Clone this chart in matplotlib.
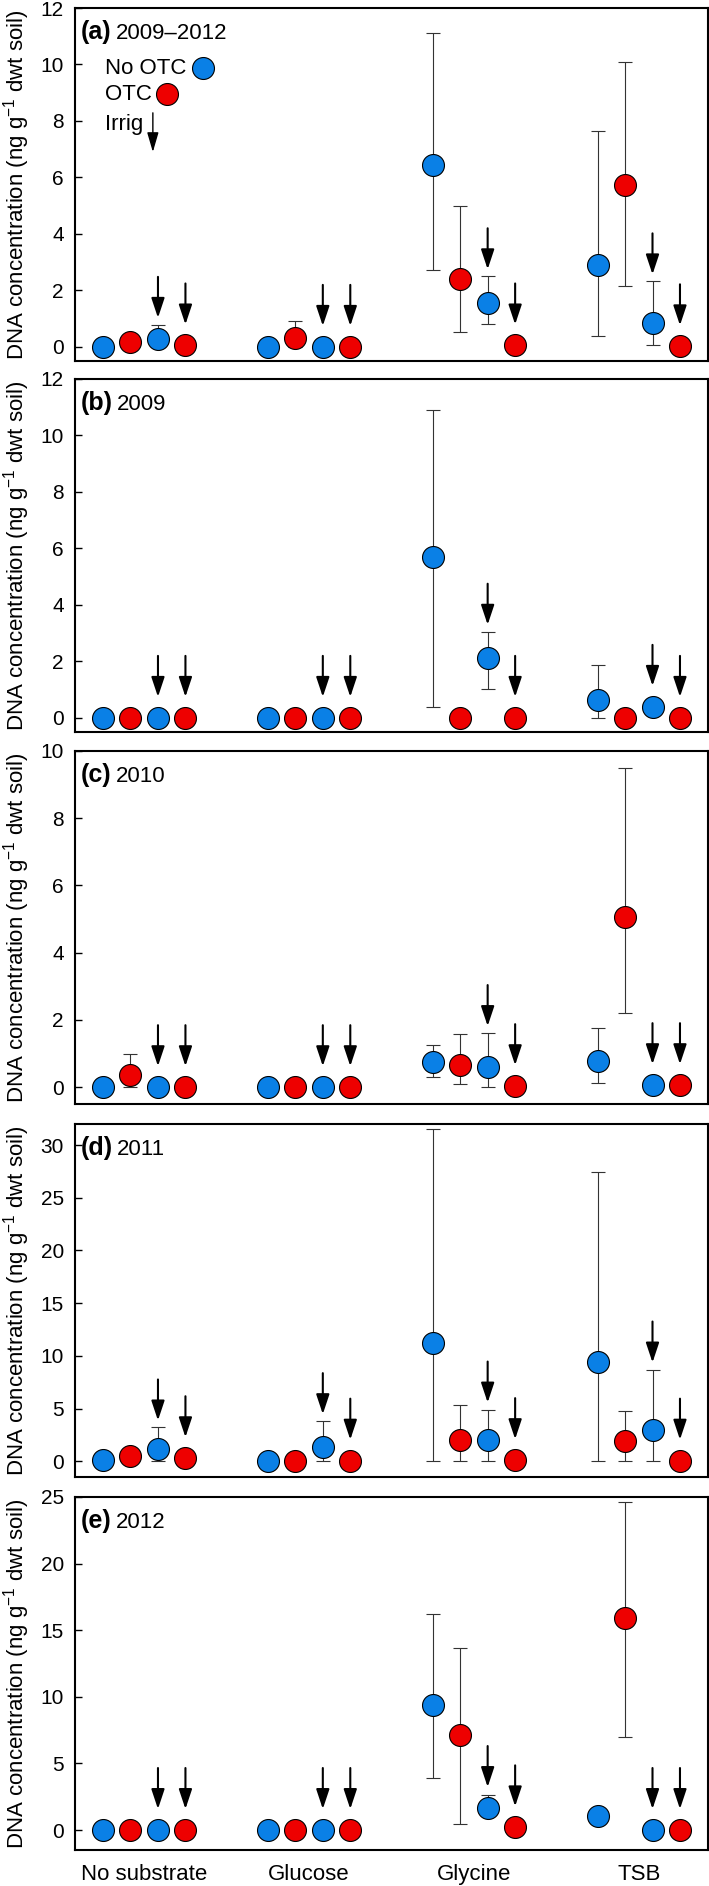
import matplotlib
matplotlib.use('Agg')
import matplotlib.pyplot as plt
import numpy as np

plt.rcParams['font.family'] = ['Liberation Sans', 'DejaVu Sans']
plt.rcParams['mathtext.fontset'] = 'custom'
plt.rcParams['mathtext.rm'] = 'Liberation Sans'
plt.rcParams['mathtext.it'] = 'Liberation Sans:italic'

substrates = ['No substrate', 'Glucose', 'Glycine', 'TSB']
treatments = ['No OTC', 'OTC', 'No OTC Irrig', 'OTC Irrig']
tags = ['(a)', '(b)', '(c)', '(d)', '(e)']
years = ['2009\u20132012', '2009', '2010', '2011', '2012']

# rows = substrate, columns = treatment (No OTC, OTC, No OTC+Irrig, OTC+Irrig)
mean_a = [[0.0, 0.18, 0.28, 0.05], [0.0, 0.32, 0.0, 0.0], [6.43, 2.42, 1.55, 0.05], [2.91, 5.72, 0.84, 0.02]]
low_a = [[0.0, 0.18, 0.0, 0.05], [0.0, 0.0, 0.0, 0.0], [2.73, 0.51, 0.80, 0.05], [0.37, 2.17, 0.05, 0.02]]
high_a = [[0.0, 0.18, 0.78, 0.05], [0.0, 0.92, 0.0, 0.0], [11.12, 4.98, 2.50, 0.05], [7.63, 10.09, 2.32, 0.02]]

mean_b = [[0.0, 0.0, 0.0, 0.0], [0.0, 0.0, 0.0, 0.0], [5.68, 0.0, 2.13, 0.0], [0.64, 0.0, 0.39, 0.0]]
low_b = [[0.0, 0.0, 0.0, 0.0], [0.0, 0.0, 0.0, 0.0], [0.39, 0.0, 1.03, 0.0], [0.0, 0.0, 0.39, 0.0]]
high_b = [[0.0, 0.0, 0.0, 0.0], [0.0, 0.0, 0.0, 0.0], [10.9, 0.0, 3.05, 0.0], [1.88, 0.0, 0.39, 0.0]]

mean_c = [[0.0, 0.36, 0.0, 0.0], [0.0, 0.0, 0.0, 0.0], [0.74, 0.66, 0.60, 0.03], [0.78, 5.07, 0.06, 0.06]]
low_c = [[0.0, 0.0, 0.0, 0.0], [0.0, 0.0, 0.0, 0.0], [0.30, 0.09, 0.0, 0.03], [0.12, 2.2, 0.06, 0.06]]
high_c = [[0.0, 0.98, 0.0, 0.0], [0.0, 0.0, 0.0, 0.0], [1.25, 1.58, 1.61, 0.03], [1.76, 9.48, 0.06, 0.06]]

mean_d = [[0.1, 0.47, 1.14, 0.28], [0.05, 0.05, 1.33, 0.05], [11.2, 1.99, 1.99, 0.1], [9.4, 1.9, 2.94, 0.05]]
low_d = [[0.1, 0.47, 0.0, 0.28], [0.05, 0.05, 0.0, 0.05], [0.0, 0.0, 0.0, 0.1], [0.0, 0.0, 0.0, 0.05]]
high_d = [[0.1, 0.47, 3.2, 0.28], [0.05, 0.05, 3.8, 0.05], [31.5, 5.3, 4.9, 0.1], [27.4, 4.8, 8.7, 0.05]]

mean_e = [[0.0, 0.0, 0.0, 0.0], [0.0, 0.0, 0.0, 0.0], [9.4, 7.1, 1.65, 0.2], [1.05, 15.9, 0.0, 0.0]]
low_e = [[0.0, 0.0, 0.0, 0.0], [0.0, 0.0, 0.0, 0.0], [3.9, 0.45, 1.65, 0.2], [1.05, 6.95, 0.0, 0.0]]
high_e = [[0.0, 0.0, 0.0, 0.0], [0.0, 0.0, 0.0, 0.0], [16.2, 13.7, 2.6, 0.2], [1.05, 24.6, 0.0, 0.0]]

means = [mean_a, mean_b, mean_c, mean_d, mean_e]
lows = [low_a, low_b, low_c, low_d, low_e]
highs = [high_a, high_b, high_c, high_d, high_e]

ylims = [(-0.5, 12), (-0.5, 12), (-0.5, 10), (-1.5, 32), (-1.5, 25)]
yticks = [np.arange(0, 13, 2), np.arange(0, 13, 2), np.arange(0, 11, 2),
          np.arange(0, 31, 5), np.arange(0, 26, 5)]

blue = '#0A80E6'
red = '#EE0000'
colors = [blue, red, blue, red]
irrig = [False, False, True, True]
offsets = np.array([-1.5, -0.5, 0.5, 1.5]) / 6.0

W, H, dpi = 709, 1886, 100
fig = plt.figure(figsize=(W / dpi, H / dpi), dpi=dpi)

ax_left, ax_right = 75, 708
tops = [8, 379, 751, 1124, 1497]
ax_h = 353
ms = 15.8  # marker size (pt)
px = 72.0 / dpi
arrow_style = '-|>,head_length=1.2,head_width=0.4'

for k in range(5):
    top = tops[k]
    ax = fig.add_axes([ax_left / W, 1 - (top + ax_h) / H,
                       (ax_right - ax_left) / W, ax_h / H])
    ax.set_xlim(-0.42, 3.42)
    ax.set_ylim(*ylims[k])
    ax.set_yticks(yticks[k])
    ax.tick_params(axis='y', direction='in', length=5, width=1, labelsize=15, pad=8)
    ax.tick_params(axis='x', length=0, labelsize=16, pad=10)
    ax.set_xticks(range(4))
    if k == 4:
        ax.set_xticklabels(substrates)
    else:
        ax.set_xticklabels([])
    for s in ax.spines.values():
        s.set_linewidth(1.5)
    ax.set_ylabel('DNA concentration (ng g$^{-1}$ dwt soil)', fontsize=16)
    ax.yaxis.set_label_coords(-0.068, 0.5)

    m = np.array(means[k])
    lo = np.array(lows[k])
    hi = np.array(highs[k])
    xg = np.arange(len(substrates))

    # pixels per data unit
    ppu = ax.transData.transform((0, 1))[1] - ax.transData.transform((0, 0))[1]

    for j in range(4):
        x = xg + offsets[j]
        y = m[:, j]
        yerr = [y - lo[:, j], hi[:, j] - y]
        ax.errorbar(x, y, yerr=yerr, fmt='none', ecolor='#333333', elinewidth=0.8,
                    capsize=4.7, capthick=0.8, zorder=2)
        ax.plot(x, y, 'o', ms=ms, mfc=colors[j], mec='black', mew=0.8, zorder=3,
                clip_on=False)
        if irrig[j]:
            for i in range(len(x)):
                err_px = (hi[i, j] - y[i]) * ppu
                tip = max(21, err_px + 7)
                ax.annotate('', xy=(x[i], y[i]), xytext=(0, (tip + 41) * px),
                            textcoords='offset points',
                            arrowprops=dict(arrowstyle=arrow_style, color='black',
                                            lw=1.5, shrinkA=0, shrinkB=tip * px))

    lab = ax.text(0.0095, 0.933, tags[k], transform=ax.transAxes, fontsize=18,
                  fontweight='bold', va='center', ha='left')
    ax.annotate(years[k], xy=(1, 0), xycoords=lab, xytext=(3, 0),
                textcoords='offset points', fontsize=16, va='bottom', ha='left')

    if k == 0:
        ax.text(0.0474, 0.830, 'No OTC', transform=ax.transAxes, fontsize=16,
                va='center', ha='left')
        ax.plot([0.202], [0.830], 'o', transform=ax.transAxes, ms=ms, mfc=blue,
                mec='black', mew=0.8, clip_on=False)
        ax.text(0.0474, 0.756, 'OTC', transform=ax.transAxes, fontsize=16,
                va='center', ha='left')
        ax.plot([0.145], [0.756], 'o', transform=ax.transAxes, ms=ms, mfc=red,
                mec='black', mew=0.8, clip_on=False)
        ax.text(0.0474, 0.669, 'Irrig', transform=ax.transAxes, fontsize=16,
                va='center', ha='left')
        ax.annotate('', xy=(0.123, 0.592), xycoords='axes fraction',
                    xytext=(0.123, 0.703), textcoords='axes fraction',
                    arrowprops=dict(arrowstyle='-|>,head_length=1.2,head_width=0.35',
                                    color='black', lw=1.0, shrinkA=0, shrinkB=0))

fig.savefig('out.png', dpi=dpi)
